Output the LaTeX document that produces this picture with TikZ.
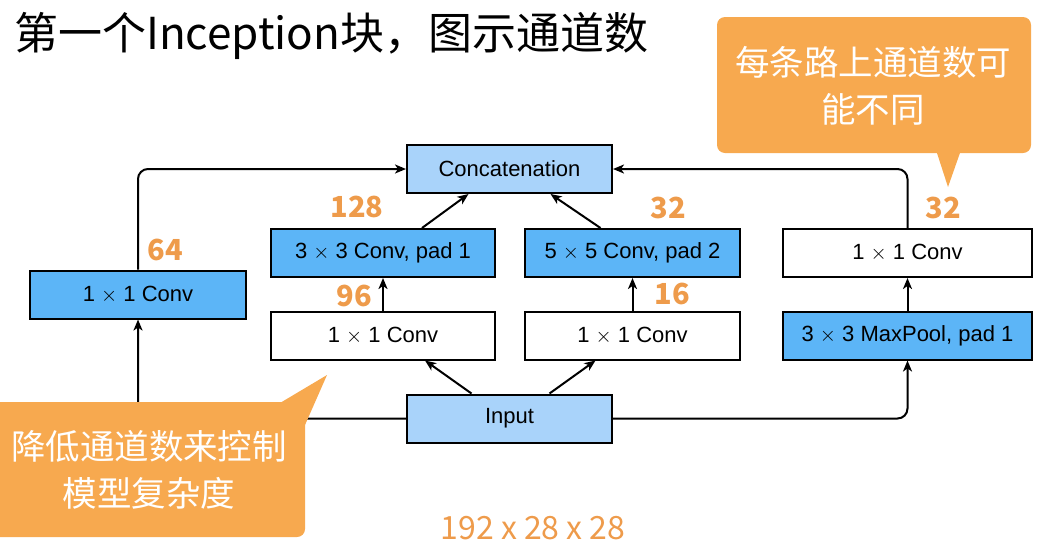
\documentclass[tikz,border=0pt]{standalone}
\usepackage{fontspec}
\setmainfont{Liberation Sans}
\newfontfamily\cjk{Noto Sans CJK SC}
\usetikzlibrary{arrows.meta}
\definecolor{lightblue}{HTML}{A9D3FA}
\definecolor{convblue}{HTML}{5CB5F7}
\definecolor{numorange}{HTML}{EE9B4B}
\definecolor{bubble}{HTML}{F7A94F}
\begin{document}
\begin{tikzpicture}[x=1pt, y=-1pt,
  box/.style={draw, line width=2pt, minimum height=48pt, inner sep=0pt, font=\fontsize{22}{24}\selectfont},
  num/.style={text=numorange, font=\cjk\bfseries\fontsize{29}{32}\selectfont},
  bubbletext/.style={text=white, align=center, font=\cjk\fontsize{34.5}{47}\selectfont},
  arr/.style={-{Stealth[length=11pt,width=9pt,inset=3pt]}, line width=2pt}]
  \useasboundingbox (0,0) rectangle (1044,547);
  \node[anchor=west, inner sep=0pt, font=\cjk\fontsize{44}{50}\selectfont] (title) at (14,36) {第一个Inception块，图示通道数};

  \node[box, fill=lightblue, minimum width=205pt] (concat) at (509.5,169) {Concatenation};
  \node[box, fill=lightblue, minimum width=205pt] (input) at (509.5,418.5) {Input};
  \node[box, fill=convblue, minimum width=216pt] (conva) at (138,294.5) {1 $\times$ 1 Conv};
  \node[box, fill=white, minimum width=224pt] (convb1) at (383,335.5) {1 $\times$ 1 Conv};
  \node[box, fill=convblue, minimum width=224pt] (convb2) at (383,253) {3 $\times$ 3 Conv, pad 1};
  \node[box, fill=white, minimum width=215pt] (convc1) at (632.5,335.5) {1 $\times$ 1 Conv};
  \node[box, fill=convblue, minimum width=215pt] (convc2) at (632.5,253) {5 $\times$ 5 Conv, pad 2};
  \node[box, fill=convblue, minimum width=249pt] (pool) at (907.5,335.5) {3 $\times$ 3 MaxPool, pad 1};
  \node[box, fill=white, minimum width=249pt] (convd) at (907.5,253) {1 $\times$ 1 Conv};

  \draw[arr, rounded corners=10pt] (input.west) -| (conva.south);
  \draw[arr, rounded corners=10pt] (conva.north) |- (concat.west);
  \draw[arr, rounded corners=10pt] (input.east) -| (pool.south);
  \draw[arr, rounded corners=10pt] (convd.north) |- (concat.east);
  \draw[arr] ([xshift=-38pt]input.north) -- ([xshift=42pt]convb1.south);
  \draw[arr] ([xshift=40pt]input.north) -- ([xshift=-37pt]convc1.south);
  \foreach \a/\b in {convb1/convb2, convc1/convc2, pool/convd} \draw[arr] (\a) -- (\b);
  \draw[arr] ([xshift=39pt]convb2.north) -- ([xshift=-41pt]concat.south);
  \draw[arr] ([xshift=-32pt]convc2.north) -- ([xshift=41pt]concat.south);

  \node[num] (na) at (165,250) {64};
  \node[num] (nb2) at (357,207) {128};
  \node[num] (nb1) at (354,296) {96};
  \node[num] (nc2) at (668,208) {32};
  \node[num] (nc1) at (672,294) {16};
  \node[num] (nd) at (943,208) {32};
  \node[text=numorange, font=\cjk\fontsize{32}{34}\selectfont] (shape) at (533,528) {192 x 28 x 28};

  \fill[bubble, rounded corners=8pt] (717,17) rectangle (1031,153);
  \fill[bubble] (936,150) -- (948,187) -- (961,150) -- cycle;
  \node[bubbletext] (tipa) at (873,85.5) {每条路上通道数可\\能不同};
  \fill[bubble, rounded corners=8pt] (-20,402) rectangle (305,537);
  \fill[bubble] (280,403) -- (327,375) -- (305,425) -- cycle;
  \node[bubbletext] (tipb) at (149,470) {降低通道数来控制\\模型复杂度};
\end{tikzpicture}
\end{document}
